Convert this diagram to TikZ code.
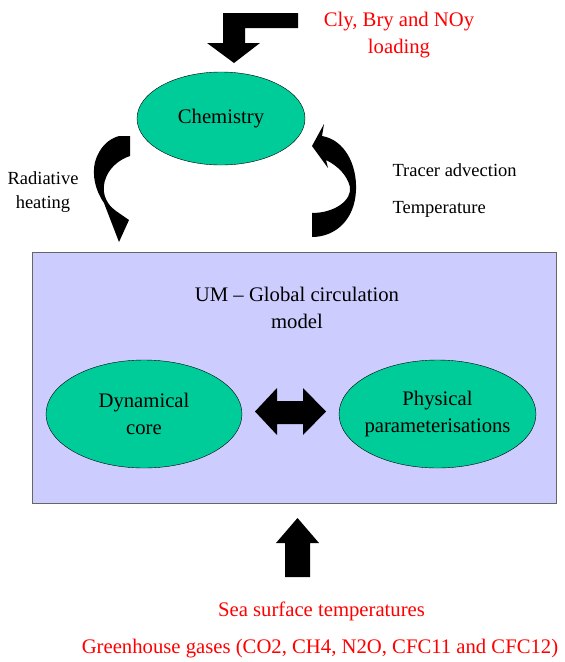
\documentclass[tikz,border=0pt]{standalone}
\usepackage{fontspec}
\setmainfont{Liberation Serif}
\usepackage{xcolor}
\usepackage{tikz}
\usetikzlibrary{shapes.geometric}
\definecolor{c1}{HTML}{00CC99}
\definecolor{c2}{HTML}{CCCCFF}
\definecolor{c3}{HTML}{FF0000}
\definecolor{c4}{HTML}{666666}

\begin{document}
\begin{tikzpicture}[x=1pt, y=-1pt, font=\fontsize{20.7}{27}\selectfont,
        blob/.style={ellipse, draw=black, fill=c1, inner sep=0pt, inner xsep=-8pt, align=center},
        side/.style={font=\fontsize{18.5}{24}\selectfont, align=center}]
        \useasboundingbox (0, 0) rectangle (565, 662);
        \draw [c4, fill=c2] (32, 252) rectangle (556, 503);
        \node [blob, minimum width=168pt, minimum height=93pt] (chem) at (221, 118.5) {Chemistry};
        \node [blob, minimum width=196pt, minimum height=108pt] (dyn) at (144, 414) {Dynamical\\core};
        \node [blob, minimum width=197pt, minimum height=108pt] (phys) at (437.5, 414) {Physical\\parameterisations};
        \node [align=center] (gcm) at (297, 308) {UM -- Global circulation\\model};

        \node [c3, align=center] (load) at (399, 35) {Cly, Bry and NOy\\loading};
        \node [side] (rad) at (43, 191.7) {Radiative\\heating};
        \node [side, anchor=base west] (tracer) at (389, 176) {Tracer advection};
        \node [side, anchor=base west] (temp) at (389, 213) {Temperature};
        \node [c3, anchor=base] (sst) at (321.5, 616) {Sea surface temperatures};
        \node [c3, anchor=base] (ghg) at (320, 653) {Greenhouse gases (CO2, CH4, N2O, CFC11 and CFC12)};

        \fill (298, 13) -- (223, 13) -- (223, 43) -- (207, 43) -- (234, 63) -- (260, 43)
                -- (245, 43) -- (245, 28) -- (298, 28) -- cycle;
        \fill (130, 136) -- (130, 156) .. controls (112, 162) and (102, 178) .. (104, 192)
                .. controls (105, 200) and (110, 207) .. (116, 211) -- (129, 220) -- (119, 242)
                -- (104, 203) .. controls (95, 190) and (92, 175) .. (95, 162)
                .. controls (99, 148) and (108, 139) .. (119, 136) -- cycle;
        \fill (312, 146) -- (324, 124) -- (322, 136) .. controls (345, 140) and (357, 165) .. (356, 190)
                .. controls (355, 220) and (335, 237) .. (312, 237) -- (312, 213)
                .. controls (335, 213) and (352, 200) .. (350, 187)
                .. controls (347, 175) and (338, 166) .. (326, 160) -- (328, 168) -- cycle;
        \fill (255, 411.5) -- (277, 388) -- (277, 401) -- (303, 401) -- (303, 388) -- (326, 411.5)
                -- (303, 435) -- (303, 424) -- (277, 424) -- (277, 435) -- cycle;
        \fill (297.5, 518) -- (319, 543) -- (310, 543) -- (310, 577) -- (285, 577) -- (285, 543)
                -- (276, 543) -- cycle;
    \end{tikzpicture}
\end{document}
